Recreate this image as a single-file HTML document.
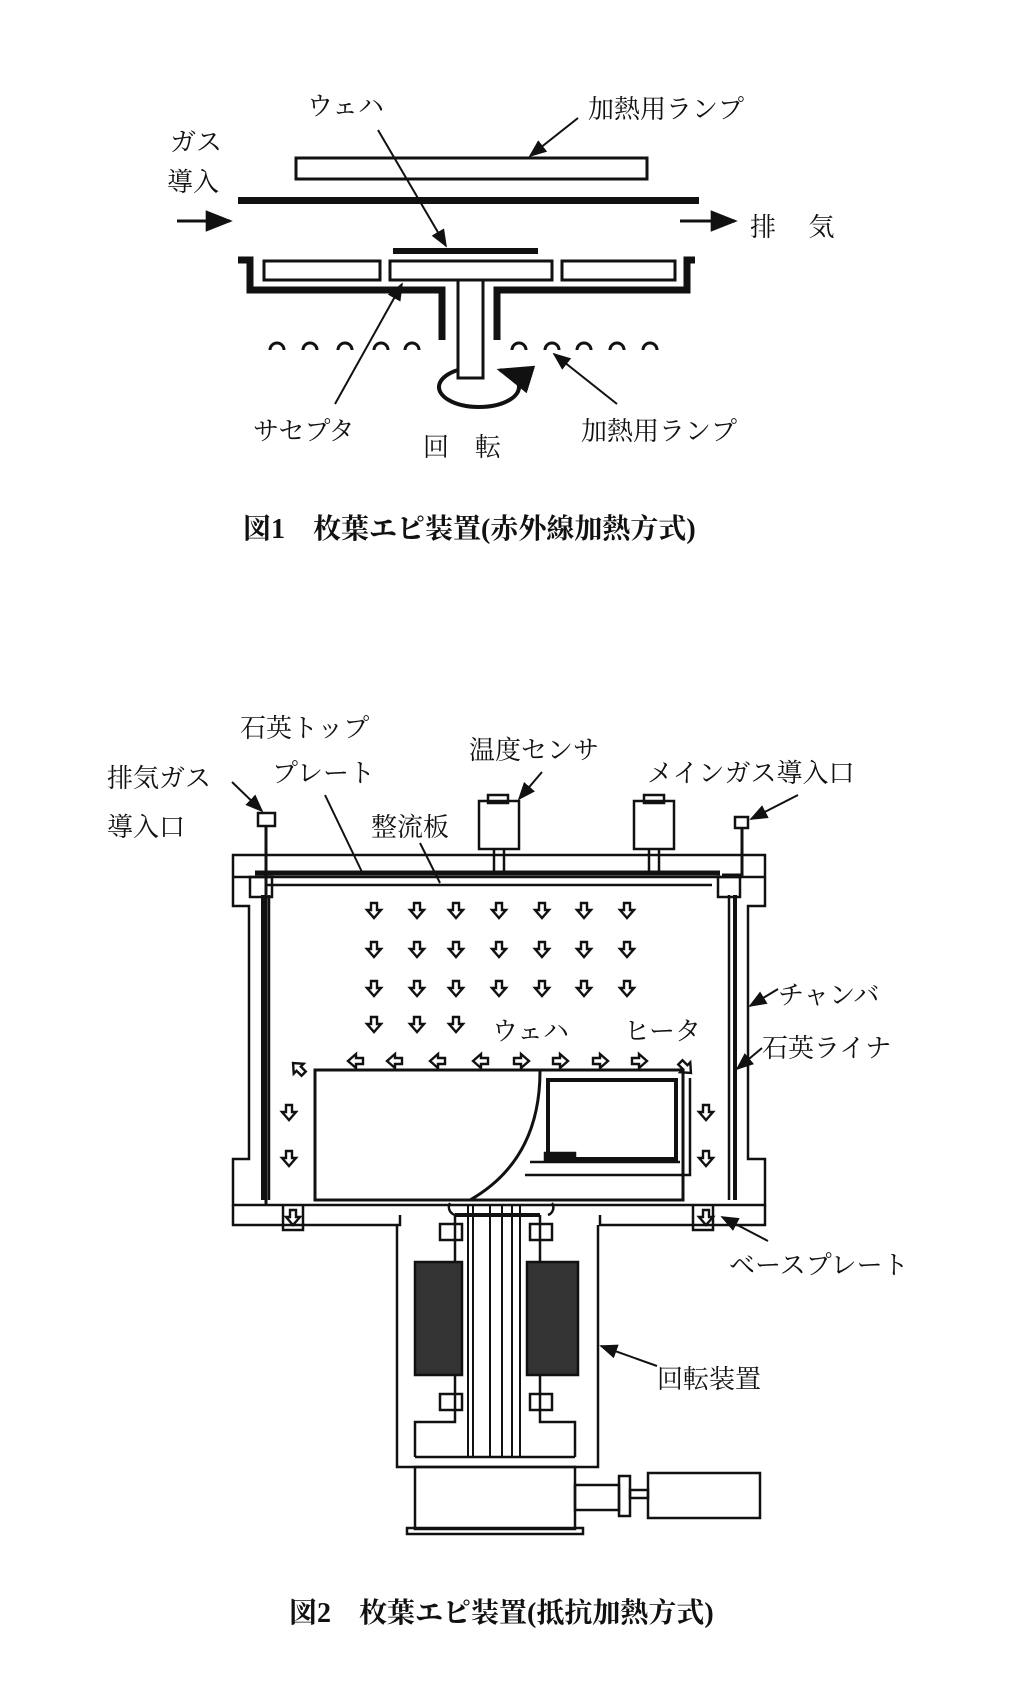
<!DOCTYPE html>
<html><head><meta charset="utf-8"><style>
html,body{margin:0;padding:0;background:#fff;}
svg{display:block;}
text{font-family:"Liberation Serif","Noto Serif CJK SC","Noto Sans CJK JP",serif;fill:#111;}
</style></head><body>
<svg width="1024" height="1698" viewBox="0 0 1024 1698" xmlns="http://www.w3.org/2000/svg">
<defs>
<marker id="ah" viewBox="0 0 10 10" refX="9" refY="5" markerWidth="9" markerHeight="9" orient="auto"><path d="M0,1 L10,5 L0,9 z" fill="#111"/></marker>
<g id="da"><path d="M-3,-8 h6 v7 h4 l-7,8 l-7,-8 h4 z" fill="none" stroke="#111" stroke-width="2.4"/></g>
<g id="la"><path d="M8,-3 v6 h-7 v4 l-8,-7 l8,-7 v4 z" fill="none" stroke="#111" stroke-width="2.4"/></g>
<g id="ra"><path d="M-8,-3 v6 h7 v4 l8,-7 l-8,-7 v4 z" fill="none" stroke="#111" stroke-width="2.4"/></g>
</defs>
<g stroke="#111" fill="none">
<!-- FIG 1 -->
<rect x="296" y="158" width="351" height="21" stroke-width="3"/>
<rect x="238" y="197" width="461" height="7" fill="#111" stroke="none"/>
<line x1="177" y1="221" x2="230" y2="221" stroke-width="3" marker-end="url(#ah)"/>
<line x1="680" y1="221" x2="735" y2="221" stroke-width="3" marker-end="url(#ah)"/>
<rect x="393" y="248" width="145" height="6" fill="#111" stroke="none"/>
<rect x="264" y="261" width="116" height="19" stroke-width="3"/>
<rect x="390" y="261" width="162" height="19" stroke-width="3"/>
<rect x="562" y="261" width="113" height="19" stroke-width="3"/>
<path d="M238,260 h12 v30 h192 v50" stroke-width="7"/>
<path d="M695,260 h-8 v30 h-190 v50" stroke-width="7"/>
<rect x="458" y="280" width="25" height="98" stroke-width="3"/>
<path d="M458,370 A40 20 0 1 0 500,370" stroke-width="4" marker-end="url(#ah)"/>
<g stroke-width="3">
<path d="M270,350 a7,7 0 0 1 14,0"/><path d="M303,350 a7,7 0 0 1 14,0"/><path d="M338,350 a7,7 0 0 1 14,0"/><path d="M374,350 a7,7 0 0 1 14,0"/><path d="M405,350 a7,7 0 0 1 14,0"/>
<path d="M512,350 a7,7 0 0 1 14,0"/><path d="M545,350 a7,7 0 0 1 14,0"/><path d="M577,350 a7,7 0 0 1 14,0"/><path d="M610,350 a7,7 0 0 1 14,0"/><path d="M643,350 a7,7 0 0 1 14,0"/>
</g>
<g stroke-width="2">
<line x1="378" y1="130" x2="446" y2="246" marker-end="url(#ah)"/>
<line x1="578" y1="118" x2="530" y2="156" marker-end="url(#ah)"/>
<line x1="335" y1="404" x2="402" y2="284" marker-end="url(#ah)"/>
<line x1="617" y1="404" x2="554" y2="354" marker-end="url(#ah)"/>
</g>
</g>
<g font-size="26">
<text x="307" y="115">ウェハ</text>
<text x="588" y="118">加熱用ランプ</text>
<text x="170" y="151">ガス</text>
<text x="167" y="191">導入</text>
<text x="750" y="236">排　 気</text>
<text x="253" y="440">サセプタ</text>
<text x="423" y="456">回　転</text>
<text x="581" y="440">加熱用ランプ</text>
</g>
<text x="243" y="538" font-size="28" font-weight="bold">図1　枚葉エピ装置(赤外線加熱方式)</text>
<!-- FIG 2 -->
<g stroke="#111" fill="none" stroke-width="2.5">
<path d="M233,855 H765 V906 H748 V1159 H765 V1205 H233 V1159 H249 V906 H233 Z"/>
<line x1="233" y1="877" x2="765" y2="877"/>
<line x1="255" y1="873" x2="720" y2="873" stroke-width="5"/>
<line x1="265" y1="885" x2="712" y2="885" stroke-width="2.5"/>
<rect x="250" y="877" width="22" height="20"/><rect x="718" y="877" width="22" height="20"/>
<line x1="263" y1="895" x2="263" y2="1200" stroke-width="4"/>
<line x1="269" y1="895" x2="269" y2="1200"/>
<line x1="735" y1="895" x2="735" y2="1200" stroke-width="4"/>
<line x1="729" y1="895" x2="729" y2="1200"/>
<path d="M233,1205 V1225 H400 V1215"/>
<path d="M765,1205 V1225 H600 V1215"/>
<path d="M283,1205 v25 h20 v-25 M693,1205 v25 h20 v-25"/>
<rect x="258" y="813" width="17" height="13" stroke-width="2.5"/>
<line x1="266" y1="826" x2="266" y2="1205" stroke-width="3"/>
<rect x="735" y="817" width="13" height="11"/>
<path d="M742,828 V875 H722" stroke-width="3"/>
<rect x="479" y="801" width="40" height="48"/><rect x="488" y="795" width="20" height="8"/>
<line x1="494" y1="849" x2="494" y2="873"/><line x1="504" y1="849" x2="504" y2="873"/>
<rect x="634" y="801" width="40" height="48"/><rect x="644" y="795" width="20" height="8"/>
<line x1="649" y1="849" x2="649" y2="873"/><line x1="659" y1="849" x2="659" y2="873"/>
<rect x="315" y="1070" width="368" height="130" stroke-width="3"/>
<path d="M540,1071 Q540,1160 470,1200" stroke-width="3"/>
<rect x="548" y="1080" width="128" height="79" stroke-width="4"/>
<path d="M530,1162 H680 M525,1175 H690 V1078"/>
<path d="M545,1153 h30 v8 h-30 z" fill="#111"/>
<path d="M450,1203 a8,8 0 0 0 8,12 M552,1203 a8,8 0 0 1 -4,12"/>
<path d="M397,1225 V1467 H598 V1225"/>
<path d="M415,1457 V1422 H455 V1215 M575,1457 V1422 H540 V1215 M415,1457 H575"/>
<g stroke-width="2"><line x1="468" y1="1205" x2="468" y2="1457"/><line x1="473" y1="1205" x2="473" y2="1457"/><line x1="490" y1="1205" x2="490" y2="1457"/><line x1="502" y1="1205" x2="502" y2="1457"/><line x1="512" y1="1205" x2="512" y2="1457"/><line x1="520" y1="1205" x2="520" y2="1457"/></g>
<line x1="455" y1="1215" x2="540" y2="1215" stroke-width="4"/>
<rect x="440" y="1224" width="22" height="16"/><rect x="530" y="1224" width="22" height="16"/>
<rect x="440" y="1394" width="22" height="16"/><rect x="530" y="1394" width="22" height="16"/>
<rect x="415" y="1262" width="47" height="113" fill="#333"/>
<rect x="527" y="1262" width="51" height="113" fill="#333"/>
<rect x="415" y="1467" width="160" height="62"/>
<rect x="407" y="1528" width="176" height="6"/>
<rect x="575" y="1485" width="44" height="25"/>
<rect x="619" y="1476" width="11" height="40"/>
<rect x="630" y="1490" width="18" height="8"/>
<rect x="648" y="1473" width="112" height="45"/>
<g stroke-width="2">
<line x1="232" y1="782" x2="262" y2="811" marker-end="url(#ah)"/>
<line x1="325" y1="795" x2="362" y2="872"/>
<line x1="420" y1="843" x2="440" y2="883"/>
<line x1="542" y1="772" x2="519" y2="799" marker-end="url(#ah)"/>
<line x1="798" y1="795" x2="751" y2="819" marker-end="url(#ah)"/>
<line x1="778" y1="989" x2="750" y2="1006" marker-end="url(#ah)"/>
<line x1="762" y1="1048" x2="737" y2="1069" marker-end="url(#ah)"/>
<line x1="768" y1="1241" x2="722" y2="1217" marker-end="url(#ah)"/>
<line x1="657" y1="1366" x2="601" y2="1346" marker-end="url(#ah)"/>
</g>
</g>
<g>
<use href="#da" x="374" y="911"/><use href="#da" x="417" y="911"/><use href="#da" x="456" y="911"/><use href="#da" x="499" y="911"/><use href="#da" x="542" y="911"/><use href="#da" x="584" y="911"/><use href="#da" x="627" y="911"/>
<use href="#da" x="374" y="950"/><use href="#da" x="417" y="950"/><use href="#da" x="456" y="950"/><use href="#da" x="499" y="950"/><use href="#da" x="542" y="950"/><use href="#da" x="584" y="950"/><use href="#da" x="627" y="950"/>
<use href="#da" x="374" y="989"/><use href="#da" x="417" y="989"/><use href="#da" x="456" y="989"/><use href="#da" x="499" y="989"/><use href="#da" x="542" y="989"/><use href="#da" x="584" y="989"/><use href="#da" x="627" y="989"/>
<use href="#da" x="374" y="1025"/><use href="#da" x="417" y="1025"/><use href="#da" x="456" y="1025"/>
<use href="#la" x="355" y="1061"/><use href="#la" x="394" y="1061"/><use href="#la" x="437" y="1061"/><use href="#la" x="480" y="1061"/>
<use href="#ra" x="522" y="1061"/><use href="#ra" x="561" y="1061"/><use href="#ra" x="601" y="1061"/><use href="#ra" x="640" y="1061"/>
<use href="#la" x="298" y="1068" transform="rotate(45 298 1068)"/>
<use href="#ra" x="686" y="1068" transform="rotate(45 686 1068)"/>
<use href="#da" x="289" y="1113"/><use href="#da" x="289" y="1159"/>
<use href="#da" x="706" y="1113"/><use href="#da" x="706" y="1159"/>
<use href="#da" x="293" y="1218"/><use href="#da" x="706" y="1218"/>
</g>
<g font-size="26">
<text x="240" y="737">石英トップ</text>
<text x="272" y="782">プレート</text>
<text x="469" y="759">温度センサ</text>
<text x="107" y="787">排気ガス</text>
<text x="107" y="836">導入口</text>
<text x="647" y="782">メインガス導入口</text>
<text x="371" y="836">整流板</text>
<text x="492" y="1040">ウェハ</text>
<text x="624" y="1040">ヒータ</text>
<text x="778" y="1004">チャンバ</text>
<text x="762" y="1057">石英ライナ</text>
<text x="729" y="1274">ベースプレート</text>
<text x="657" y="1388">回転装置</text>
</g>
<text x="289" y="1622" font-size="28" font-weight="bold">図2　枚葉エピ装置(抵抗加熱方式)</text>
</svg>
</body></html>
